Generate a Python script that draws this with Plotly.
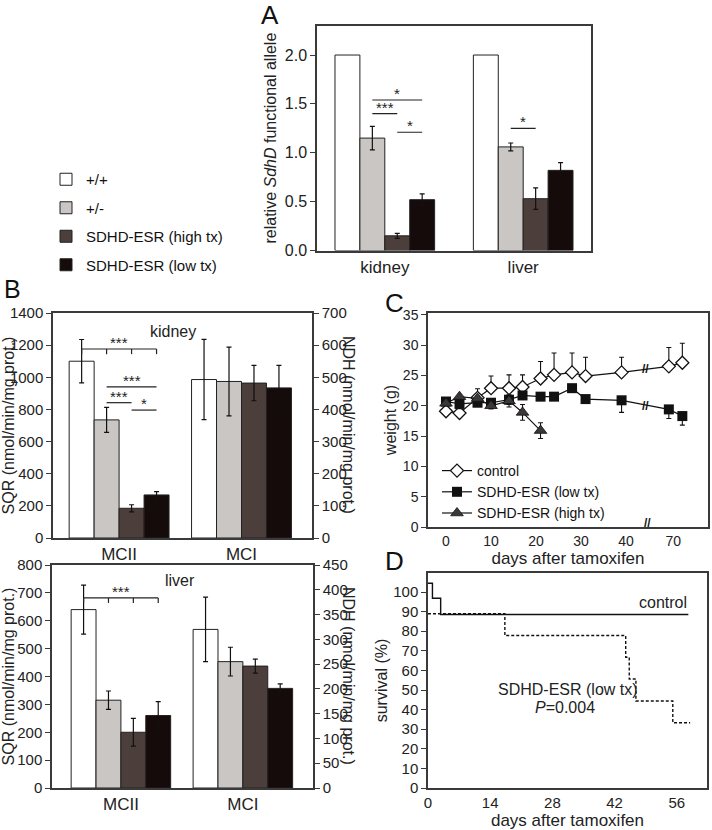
import plotly.graph_objects as go

FONT = "Liberation Sans, Arial, sans-serif"
LINE = "#3a3a3a"

# ===== DATA =====
series = ["+/+", "+/-", "SDHD-ESR (high tx)", "SDHD-ESR (low tx)"]
bar_colors = ["#ffffff", "#c9c6c3", "#4b3e3b", "#150b0b"]

# A - relative SdhD functional allele
tissues = ["kidney", "liver"]
allele_wt = [2.0, 2.0]
allele_het = [1.15, 1.06]
allele_high = [0.15, 0.53]
allele_low = [0.52, 0.82]
allele_het_err = [0.12, 0.04]
allele_high_err = [0.025, 0.11]
allele_low_err = [0.06, 0.08]

# B - enzyme activity (MCII = SQR left axis, MCI = NDH right axis)
complexes = ["MCII", "MCI"]
kidney_sqr = [1100, 735, 185, 268]
kidney_sqr_err = [135, 78, 22, 20]
kidney_ndh = [493, 487, 482, 467]
kidney_ndh_err = [125, 107, 55, 70]
liver_sqr = [640, 315, 200, 260]
liver_sqr_err = [88, 33, 50, 50]
liver_ndh = [320, 255, 246, 201]
liver_ndh_err = [65, 29, 14, 9]

# C - body weight
days_c = [0, 3, 7, 10, 14, 17, 21, 24, 28, 31, 39, 69, 72]
weight_ctrl = [19.1, 18.8, 21.3, 22.9, 22.9, 23.1, 24.5, 25.1, 25.5, 24.9, 25.5, 26.5, 27.1]
weight_ctrl_err = [0.4, 0.4, 1.5, 2.0, 2.2, 2.0, 2.8, 3.6, 3.2, 3.1, 2.5, 3.1, 3.2]
weight_low = [20.7, 20.3, 20.5, 20.5, 21.0, 21.7, 21.5, 21.5, 22.9, 21.1, 20.9, 19.4, 18.3]
weight_low_err = [0.5, 0.8, 0.5, 1.0, 0.8, 0.5, 0.5, 0.5, 0.3, 0.3, 2.0, 1.5, 1.5]
days_high = [0, 3, 7, 10, 14, 17, 21]
weight_high = [20.4, 21.5, 21.2, 20.0, 20.8, 18.9, 15.9]
weight_high_err = [0.3, 0.3, 0.3, 0.5, 1.0, 1.3, 1.3]
c_ticks = [0, 10, 20, 30, 40, 70]
BREAK_SHIFT = 19.5  # days cut out by the axis break

# D - survival
days_surv_ctrl = [0, 1.0, 2.85, 58.6]
surv_ctrl = [104.5, 96.8, 88.5, 88.5]
days_surv_low = [0, 17.3, 44.5, 45.3, 46.8, 55.1, 59.0]
surv_low = [88.9, 77.8, 66.7, 55.6, 44.4, 33.3, 33.3]
d_ticks = [0, 14, 28, 42, 56]


def brk(d):
    return d - BREAK_SHIFT if d > 45 else d


def px_x(p):
    return p / 712


def px_y(p):
    return 1 - p / 830


fig = go.Figure()

# ===== A =====
W_A = 0.18
OFF_A = [-2 * W_A, -W_A, 0, W_A]
a_vals = [allele_wt, allele_het, allele_high, allele_low]
a_errs = [None, allele_het_err, allele_high_err, allele_low_err]
for i, name in enumerate(series):
    fig.add_trace(go.Bar(
        x=tissues, y=a_vals[i], name=name, offset=OFF_A[i], width=W_A,
        marker=dict(color=bar_colors[i], line=dict(color="#222", width=1)),
        error_y=dict(type="data", array=a_errs[i], visible=a_errs[i] is not None,
                     color="#111", thickness=1.2, width=2.5),
        xaxis="x", yaxis="y", legend="legend", legendgroup=name, showlegend=True,
    ))

# ===== B =====
W_B = 0.204
OFF_B = [-2 * W_B, -W_B, 0, W_B]


def add_b(xa, yl, yr, sqr, sqr_err, ndh, ndh_err):
    for i, name in enumerate(series):
        for cat, val, err, ya in [("MCII", sqr[i], sqr_err[i], yl), ("MCI", ndh[i], ndh_err[i], yr)]:
            fig.add_trace(go.Bar(
                x=[cat], y=[val], offset=OFF_B[i], width=W_B, name=name,
                marker=dict(color=bar_colors[i], line=dict(color="#222", width=1)),
                error_y=dict(type="data", array=[err], color="#111", thickness=1.2, width=2.5),
                xaxis=xa, yaxis=ya, showlegend=False, legendgroup=name,
            ))


add_b("x2", "y2", "y3", kidney_sqr, kidney_sqr_err, kidney_ndh, kidney_ndh_err)
add_b("x3", "y4", "y5", liver_sqr, liver_sqr_err, liver_ndh, liver_ndh_err)

# ===== C =====
fig.add_trace(go.Scatter(
    x=[brk(d) for d in days_c], y=weight_ctrl, name="control", mode="lines+markers",
    line=dict(color="#111", width=1.2),
    marker=dict(symbol="diamond", size=10, color="white", line=dict(color="#111", width=1.3)),
    error_y=dict(type="data", symmetric=False, array=weight_ctrl_err,
                 arrayminus=[0] * len(days_c), color="#111", thickness=1.1, width=2.5),
    xaxis="x4", yaxis="y6", legend="legend2", legendgroup="c1",
))
fig.add_trace(go.Scatter(
    x=[brk(d) for d in days_c], y=weight_low, name="SDHD-ESR (low tx)", mode="lines+markers",
    line=dict(color="#111", width=1.2),
    marker=dict(symbol="square", size=10, color="#111"),
    error_y=dict(type="data", symmetric=False, array=[0] * len(days_c),
                 arrayminus=weight_low_err, color="#111", thickness=1.1, width=2.5),
    xaxis="x4", yaxis="y6", legend="legend2", legendgroup="c2",
))
fig.add_trace(go.Scatter(
    x=days_high, y=weight_high, name="SDHD-ESR (high tx)", mode="lines+markers",
    line=dict(color="#111", width=1.2),
    marker=dict(symbol="triangle-up", size=11, color="#3d3838", line=dict(color="#111", width=0.8)),
    error_y=dict(type="data", array=weight_high_err, color="#111", thickness=1.1, width=2.5),
    xaxis="x4", yaxis="y6", legend="legend2", legendgroup="c3",
))

# ===== D =====
fig.add_trace(go.Scatter(
    x=days_surv_ctrl, y=surv_ctrl, mode="lines", line=dict(color="#111", width=1.4, shape="hv"),
    xaxis="x5", yaxis="y7", showlegend=False,
))
fig.add_trace(go.Scatter(
    x=days_surv_low, y=surv_low, mode="lines",
    line=dict(color="#111", width=1.4, shape="hv", dash="3px,2px"),
    xaxis="x5", yaxis="y7", showlegend=False,
))

# ===== significance marks =====
shapes = []
annots = []


def ctr(cat, i, off, w):
    return cat + off[i] + w / 2


def sig(xr, yr, x0, x1, y, label, ticks=None, drop=0):
    shapes.append(dict(type="line", xref=xr, yref=yr, x0=x0, x1=x1, y0=y, y1=y,
                       line=dict(color="#222", width=1.2)))
    for t in ticks or []:
        shapes.append(dict(type="line", xref=xr, yref=yr, x0=t, x1=t, y0=y, y1=y - drop,
                           line=dict(color="#222", width=1.2)))
    annots.append(dict(xref=xr, yref=yr, x=(x0 + x1) / 2, y=y, text=label, showarrow=False,
                       xanchor="center", yanchor="bottom", yshift=-4,
                       font=dict(family=FONT, size=15, color="#222")))


sig("x", "y", ctr(0, 1, OFF_A, W_A), ctr(0, 3, OFF_A, W_A), 1.54, "*")
sig("x", "y", ctr(0, 1, OFF_A, W_A), ctr(0, 2, OFF_A, W_A), 1.40, "***")
sig("x", "y", ctr(0, 2, OFF_A, W_A), ctr(0, 3, OFF_A, W_A), 1.21, "*")
sig("x", "y", ctr(1, 1, OFF_A, W_A), ctr(1, 2, OFF_A, W_A), 1.25, "*")

kc = [ctr(0, i, OFF_B, W_B) for i in range(4)]
sig("x2", "y2", kc[0], kc[3], 1176, "***", ticks=kc, drop=32)
sig("x2", "y2", kc[1], kc[3], 940, "***")
sig("x2", "y2", kc[1], kc[2], 842, "***")
sig("x2", "y2", kc[2], kc[3], 796, "*")
sig("x3", "y4", kc[0], kc[3], 682, "***", ticks=kc, drop=18)

# ===== text =====
tfont = dict(family=FONT, size=16, color="#222")
big = dict(family=FONT, size=26, color="#111")


def label(x, y, text, font, angle=0):
    # paper-placed text, centred on the given pixel position
    return dict(xref="paper", yref="paper", x=px_x(x), y=px_y(y), text=text, showarrow=False,
                xanchor="center", yanchor="middle", textangle=angle, font=font)


annots += [
    label(270, 15, "A", big),
    label(12, 289, "B", dict(big, size=25)),
    label(394, 303, "C", big),
    label(394, 561, "D", big),
    label(173, 331, "kidney", tfont),
    label(180, 580, "liver", tfont),
    label(349, 425, "NDH (nmol/min/mg prot.)", tfont, 90),
    label(349, 676, "NDH (nmol/min/mg prot.)", tfont, 90),
    dict(xref="x5", yref="y7", x=52.9, y=94.4, text="control", showarrow=False, font=tfont),
    dict(xref="x5", yref="y7", x=31.5, y=50.5, text="SDHD-ESR (low tx)", showarrow=False, font=tfont),
    dict(xref="x5", yref="y7", x=30.9, y=41.3, text="<i>P</i>=0.004", showarrow=False, font=tfont),
]
for yv in [26.0, 20.0]:
    annots.append(dict(xref="x4", yref="y6", x=44.3, y=yv, text="<b>//</b>", showarrow=False,
                       font=dict(family=FONT, size=12, color="#111")))
annots.append(dict(xref="x4", yref="y6", x=44.7, y=0.6, text="<b>//</b>", showarrow=False,
                   font=dict(family=FONT, size=12, color="#111")))

# ===== axes =====
base = dict(showline=True, linecolor=LINE, linewidth=1.5, showgrid=False, zeroline=False,
            ticks="outside", ticklen=5, tickcolor=LINE, tickwidth=1.2, automargin=False,
            tickfont=dict(family=FONT, size=15, color="#222"))
big_tick = dict(family=FONT, size=17, color="#222")

fig.update_layout(
    xaxis=dict(base, domain=[px_x(317), px_x(591)], anchor="y", type="category",
               range=[-0.49, 1.49], ticks="", mirror=True, tickfont=big_tick),
    yaxis=dict(base, domain=[px_y(250.5), px_y(25.7)], anchor="x", range=[0, 2.3], dtick=0.5,
               tickformat=".1f", mirror=True, tickfont=dict(family=FONT, size=16, color="#222"),
               title=dict(text="relative <i>SdhD</i> functional allele", font=tfont, standoff=4)),
    xaxis2=dict(base, domain=[px_x(53), px_x(312)], anchor="y2", type="category",
                range=[-0.54, 1.576], ticks="", mirror=True, tickfont=big_tick),
    yaxis2=dict(base, domain=[px_y(538), px_y(313)], anchor="x2", range=[0, 1400], dtick=200,
                title=dict(text="SQR (nmol/min/mg prot.)", font=tfont, standoff=2)),
    yaxis3=dict(base, overlaying="y2", side="right", anchor="x2", range=[0, 700], dtick=100),
    xaxis3=dict(base, domain=[px_x(52), px_x(313)], anchor="y4", type="category",
                range=[-0.565, 1.575], ticks="", mirror=True, tickfont=big_tick),
    yaxis4=dict(base, domain=[px_y(788), px_y(565)], anchor="x3", range=[0, 800], dtick=100,
                title=dict(text="SQR (nmol/min/mg prot.)", font=tfont, standoff=2)),
    yaxis5=dict(base, overlaying="y4", side="right", anchor="x3", range=[0, 450], dtick=50),
    xaxis4=dict(base, domain=[px_x(428), px_x(708)], anchor="y6", range=[-4, 58.2], mirror=True,
                ticks="", tickvals=[brk(t) for t in c_ticks], ticktext=[str(t) for t in c_ticks],
                tickfont=dict(family=FONT, size=14, color="#222"),
                title=dict(text="days after tamoxifen", font=dict(family=FONT, size=17, color="#222"), standoff=1)),
    yaxis6=dict(base, domain=[px_y(527), px_y(313)], anchor="x4", range=[0, 35.3], dtick=5, mirror=True,
                tickfont=dict(family=FONT, size=14, color="#222"),
                title=dict(text="weight (g)", font=tfont, standoff=2)),
    xaxis5=dict(base, domain=[px_x(428), px_x(707)], anchor="y7", range=[0, 62.8], mirror=True,
                ticks="", tickvals=d_ticks,
                title=dict(text="days after tamoxifen", font=dict(family=FONT, size=17, color="#222"), standoff=1)),
    yaxis7=dict(base, domain=[px_y(788), px_y(573)], anchor="x5", range=[0, 109.7], dtick=10, mirror=True,
                title=dict(text="survival (%)", font=tfont, standoff=2)),
    legend=dict(x=px_x(46), y=px_y(163), xanchor="left", yanchor="top", bgcolor="rgba(0,0,0,0)",
                font=dict(family=FONT, size=15, color="#111"), tracegroupgap=6, itemclick=False),
    legend2=dict(x=px_x(437), y=px_y(455), xanchor="left", yanchor="top", bgcolor="rgba(0,0,0,0)",
                 font=dict(family=FONT, size=14, color="#111"), tracegroupgap=0),
    shapes=shapes,
    annotations=annots,
    width=712, height=830, autosize=False,
    margin=dict(l=0, r=0, t=0, b=0),
    plot_bgcolor="white", paper_bgcolor="white",
    font=dict(family=FONT, color="#222"),
)

# the page body has a default 8px margin; drop it so the figure sits at (0, 0)
fig.write_html("out.html", config={"displayModeBar": False},
               post_script="document.body.style.margin='0';")
